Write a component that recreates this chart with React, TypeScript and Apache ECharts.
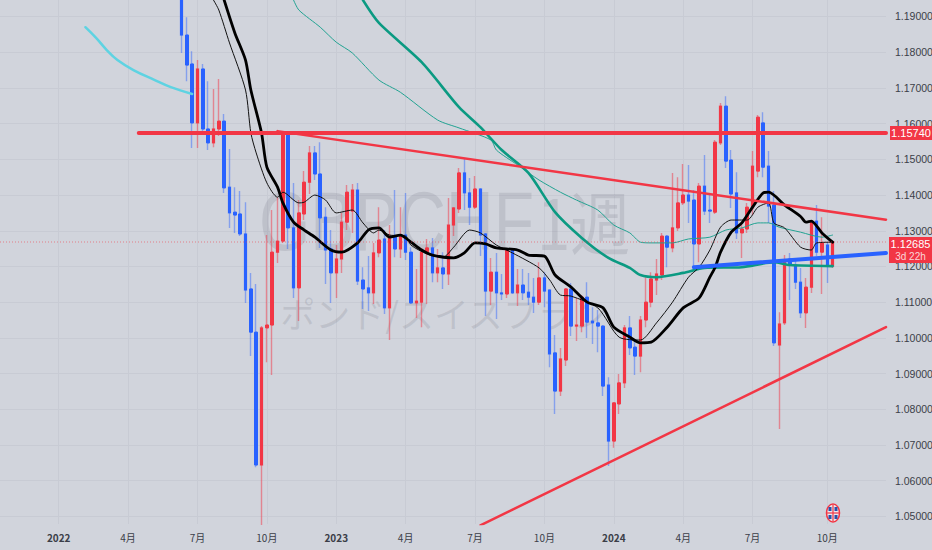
import React, { useEffect, useRef } from "react";
import * as echarts from "echarts";

const opens = [1.1974,1.1848,1.1767,1.1602,1.1753,1.1585,1.1546,1.1585,1.1607,1.1422,1.1352,1.1347,1.1291,1.1137,1.1016,1.0644,1.1028,1.1036,1.1240,1.1271,1.1568,1.1308,1.1140,1.1347,1.1436,1.1518,1.1459,1.1338,1.1249,1.1182,1.1221,1.1324,1.1355,1.1414,1.1162,1.1140,1.1126,1.1238,1.1277,1.1084,1.1285,1.1249,1.1288,1.1240,1.1098,1.1100,1.1240,1.1252,1.1182,1.1196,1.1179,1.1316,1.1361,1.1462,1.1406,1.1366,1.1417,1.1291,1.1131,1.1184,1.1126,1.1123,1.1246,1.1126,1.1148,1.1128,1.1114,1.1100,1.1168,1.1134,1.0958,1.0851,1.0938,1.1137,1.1033,1.1033,1.1114,1.1047,1.1042,1.1033,1.0868,1.0711,1.0815,1.0874,1.1028,1.0974,1.0949,1.1050,1.1100,1.1162,1.1176,1.1285,1.1252,1.1308,1.1378,1.1400,1.1386,1.1263,1.1425,1.1358,1.1352,1.1546,1.1649,1.1498,1.1406,1.1294,1.1305,1.1364,1.1467,1.1602,1.1481,1.1372,1.0980,1.1042,1.1221,1.1204,1.1156,1.1070,1.1142,1.1327,1.1240,1.1260,1.1201];
const closes = [1.1848,1.1764,1.1602,1.1753,1.1585,1.1546,1.1585,1.1607,1.1420,1.1350,1.1344,1.1291,1.1134,1.1016,1.0644,1.1028,1.1036,1.1240,1.1271,1.1574,1.1308,1.1140,1.1350,1.1436,1.1518,1.1459,1.1336,1.1246,1.1182,1.1221,1.1324,1.1408,1.1414,1.1159,1.1137,1.1126,1.1238,1.1274,1.1084,1.1285,1.1249,1.1288,1.1240,1.1098,1.1103,1.1240,1.1252,1.1182,1.1196,1.1179,1.1316,1.1364,1.1462,1.1406,1.1366,1.1417,1.1288,1.1131,1.1184,1.1126,1.1123,1.1246,1.1126,1.1148,1.1126,1.1114,1.1100,1.1168,1.1131,1.0955,1.0851,1.0941,1.1137,1.1033,1.1036,1.1114,1.1044,1.1042,1.1033,1.0865,1.0711,1.0818,1.0874,1.1028,1.0972,1.0949,1.1050,1.1100,1.1165,1.1179,1.1285,1.1254,1.1308,1.1378,1.1400,1.1383,1.1263,1.1425,1.1355,1.1355,1.1548,1.1649,1.1495,1.1403,1.1294,1.1305,1.1366,1.1481,1.1618,1.1478,1.1369,1.0986,1.1039,1.1212,1.1204,1.1156,1.1070,1.1142,1.1327,1.1240,1.1266,1.1201,1.12685];
const lows = [1.1798,1.1719,1.1532,1.1532,1.1571,1.1526,1.1534,1.1565,1.1406,1.1308,1.1294,1.1285,1.1098,1.0949,1.0638,1.0476,1.0932,1.0896,1.1210,1.1266,1.1249,1.1112,1.1047,1.1330,1.1403,1.1442,1.1252,1.1151,1.1098,1.1112,1.1182,1.1302,1.1294,1.1148,1.1081,1.1075,1.1095,1.1226,1.1067,1.0994,1.1226,1.1224,1.1218,1.1095,1.1056,1.1030,1.1095,1.1156,1.1156,1.1137,1.1148,1.1285,1.1350,1.1358,1.1316,1.1361,1.1229,1.1061,1.1092,1.1053,1.1106,1.1112,1.1123,1.1089,1.1106,1.1092,1.1070,1.1092,1.1086,1.0918,1.0787,1.0837,1.0921,1.1005,1.0991,1.1016,1.1000,1.0983,1.0960,1.0837,1.0641,1.0692,1.0787,1.0860,1.0952,1.0896,1.0904,1.1030,1.1086,1.1120,1.1162,1.1198,1.1240,1.1299,1.1372,1.1322,1.1196,1.1212,1.1344,1.1322,1.1347,1.1540,1.1476,1.1364,1.1277,1.1224,1.1294,1.1344,1.1450,1.1450,1.1322,1.0977,1.0745,1.1036,1.1106,1.1137,1.1056,1.1028,1.1126,1.1229,1.1123,1.1154,1.1196];
const highs = [1.2002,1.1898,1.1803,1.1778,1.1767,1.1719,1.1697,1.1725,1.1627,1.1529,1.1422,1.1411,1.1380,1.1182,1.1151,1.1033,1.1288,1.1358,1.1394,1.1579,1.1576,1.1434,1.1386,1.1467,1.1537,1.1537,1.1548,1.1366,1.1302,1.1260,1.1350,1.1428,1.1431,1.1434,1.1198,1.1229,1.1266,1.1366,1.1302,1.1316,1.1414,1.1366,1.1406,1.1254,1.1193,1.1252,1.1277,1.1280,1.1249,1.1240,1.1392,1.1366,1.1476,1.1504,1.1448,1.1453,1.1417,1.1294,1.1224,1.1238,1.1179,1.1246,1.1246,1.1193,1.1193,1.1182,1.1168,1.1212,1.1184,1.1134,1.1008,1.0972,1.1140,1.1154,1.1112,1.1120,1.1156,1.1086,1.1078,1.1036,1.0890,1.0820,1.0899,1.1036,1.1061,1.0988,1.1061,1.1170,1.1184,1.1221,1.1294,1.1288,1.1462,1.1450,1.1487,1.1484,1.1414,1.1434,1.1512,1.1400,1.1554,1.1658,1.1677,1.1526,1.1464,1.1324,1.1378,1.1523,1.1624,1.1632,1.1523,1.1411,1.1072,1.1232,1.1238,1.1224,1.1196,1.1168,1.1330,1.1372,1.1338,1.1268,1.1271];

// [week index, price] samples
const maFastThin = [[40,1.1946],[41,1.1918],[43,1.1826],[46,1.1694],[47,1.1574],[48,1.1518],[50,1.1434],[52,1.1394],[53,1.1408],[56,1.1378],[57,1.1380],[59,1.1400],[61,1.1386],[63,1.1350],[66,1.1358],[68,1.1322],[70,1.1294],[71,1.1302],[73,1.1288],[76,1.1285],[77,1.1260],[80,1.1235],[83,1.1226],[85,1.1254],[88,1.1302],[90,1.1294],[93,1.1260],[96,1.1238],[101,1.1196],[103,1.1162],[105,1.1120],[107,1.1117],[112,1.1084],[116,1.1002],[120,1.0994],[123,1.1042],[126,1.1100],[129,1.1170],[131,1.1198],[133,1.1246],[135,1.1310],[137,1.1330],[140,1.1330],[142,1.1366],[144,1.1378],[145,1.1322],[147,1.1308],[150,1.1254],[152,1.1246],[153,1.1266],[156,1.1268]];
const maFastThick = [[42,1.1946],[44,1.1854],[46,1.1778],[47,1.1694],[49,1.1574],[50,1.1478],[52,1.1422],[53,1.1378],[55,1.1324],[57,1.1302],[59,1.1282],[62,1.1246],[64,1.1240],[67,1.1266],[69,1.1302],[71,1.1308],[73,1.1282],[75,1.1288],[77,1.1268],[79,1.1246],[81,1.1232],[85,1.1224],[87,1.1238],[89,1.1266],[91,1.1263],[93,1.1252],[97,1.1246],[99,1.1232],[102,1.1229],[104,1.1176],[107,1.1142],[110,1.1100],[113,1.1084],[115,1.1030],[118,1.1002],[120,1.0986],[122,1.0988],[125,1.1030],[128,1.1084],[131,1.1112],[133,1.1170],[134,1.1198],[135,1.1240],[137,1.1296],[139,1.1322],[141,1.1366],[143,1.1406],[144,1.1408],[147,1.1372],[150,1.1340],[151,1.1324],[152,1.1327],[154,1.1294],[156,1.1268]];
const maSlowThin = [[55,1.1946],[56,1.1918],[60,1.1870],[63,1.1828],[66,1.1798],[71,1.1722],[75,1.1688],[82,1.1610],[86,1.1588],[92,1.1554],[93,1.1526],[97,1.1484],[101,1.1442],[105,1.1408],[108,1.1386],[112,1.1358],[115,1.1316],[118,1.1294],[120,1.1268],[122,1.1266],[126,1.1266],[129,1.1277],[133,1.1282],[136,1.1302],[139,1.1308],[142,1.1322],[144,1.1322],[146,1.1310],[150,1.1296],[154,1.1282],[156,1.1288]];
const maSlowThick = [[68,1.1946],[71,1.1882],[79,1.1772],[86,1.1646],[90,1.1590],[94,1.1526],[99,1.1462],[104,1.1352],[109,1.1280],[114,1.1224],[118,1.1196],[120,1.1176],[123,1.1170],[128,1.1182],[132,1.1196],[139,1.1198],[145,1.1212],[148,1.1204],[156,1.1201]];
const maCyan = [[16,1.1870],[18,1.1840],[20,1.1806],[22,1.1778],[25,1.1750],[29,1.1722],[32,1.1702],[36,1.1683]];

const resistanceLevel = [[26,1.1574],[166,1.1574]];
const descendingLine = [[52,1.1579],[166,1.1331]];
const blueLine = [[130,1.1198],[166,1.12376]];
const ascendingLine = [[90,1.0475],[166,1.1030]];
const lastPriceLine = [[0,1.12685],[166,1.12685]];

const priceTicks = [1.05,1.06,1.07,1.08,1.09,1.10,1.11,1.12,1.13,1.14,1.15,1.16,1.17,1.18,1.19];
const timeTickIndex = [11,24,37,50,63,76,89,102,115,128,141,155];
const timeTickLabels = ["2022","4月","7月","10月","2023","4月","7月","10月","2024","4月","7月","10月"];

const WEEKS = 167;
const FIRST_CANDLE = 34;
const RED = "#F23645";
const BLUE = "#2962FF";
const BG = "#D1D4DC";
const GRIDLINE = "#C8CBD4";
const WATERMARK = "rgba(110,113,125,0.19)";
const NARROW = "'Liberation Sans Narrow','Liberation Sans',sans-serif";
const CJK = "'Noto Sans CJK JP',sans-serif";

export default function App() {
  const ref = useRef<HTMLDivElement>(null);
  useEffect(() => {
    document.body.style.margin = "0";
    document.body.style.background = BG;
    const chart = echarts.init(ref.current!, undefined, { renderer: "svg" });
    const categories = Array.from({ length: WEEKS }, (_, i) => "w" + i);
    const blank = ["-", "-", "-", "-"];
    const pad = (rows: any[]) => {
      const out: any[] = [];
      for (let i = 0; i < WEEKS; i++) {
        const k = i - FIRST_CANDLE;
        out.push(k >= 0 && k < rows.length ? rows[k] : blank);
      }
      return out;
    };
    const wickRows = opens.map((o, i) => [o, closes[i], lows[i], highs[i]]);
    const bodyRows = opens.map((o, i) => [o, closes[i], Math.min(o, closes[i]), Math.max(o, closes[i])]);
    const showTick = (idx: number) => timeTickIndex.indexOf(idx) >= 0;
    const line = (name: string, data: number[][], color: string, width: number, smooth: number | boolean = 0.25, extra: any = {}) => ({
      name, type: "line", data, showSymbol: false, symbol: "none", smooth, silent: true,
      lineStyle: { color, width, cap: "round", join: "round" }, z: 5, ...extra,
    });
    chart.setOption({
      animation: false,
      backgroundColor: BG,
      textStyle: { fontFamily: NARROW },
      grid: { left: 0, right: 46, top: 0, bottom: 26, containLabel: false, outerBoundsMode: "none" },
      xAxis: {
        type: "category", data: categories, boundaryGap: false,
        axisLine: { show: false }, axisTick: { show: false },
        axisLabel: {
          interval: (idx: number) => showTick(idx), margin: 8, fontSize: 10, color: "#3b3e48", fontFamily: CJK,
          hideOverlap: false,
          formatter: (_: string, idx: number) => {
            const t = timeTickLabels[timeTickIndex.indexOf(idx)] ?? "";
            return /^\d{4}$/.test(t) ? `{y|${t}}` : t;
          },
          rich: { y: { fontWeight: "bold", fontSize: 10, color: "#3b3e48", fontFamily: CJK } },
        },
        splitLine: { show: true, interval: (idx: number) => showTick(idx), lineStyle: { color: GRIDLINE, width: 1 } },
      },
      yAxis: {
        type: "value", position: "right", min: 1.04788, max: 1.19462, scale: true,
        axisLine: { show: false },
        axisTick: { show: false, customValues: priceTicks },
        axisLabel: {
          customValues: priceTicks, margin: 9, fontSize: 10.5, color: "#3b3e48", fontFamily: NARROW,
          formatter: (v: number) => v.toFixed(5),
        },
        splitLine: { show: true, lineStyle: { color: GRIDLINE, width: 1 } },
      },
      graphic: [
        { type: "text", z: 1, silent: true, x: 259, y: 221, scaleY: 1.27, style: { x: 0, y: 0, text: "GBPCHF", textAlign: "left", textVerticalAlign: "middle", fontFamily: NARROW, fontSize: 66, fill: WATERMARK } },
        { type: "text", z: 1, silent: true, x: 537, y: 220, scaleY: 1.15, style: { x: 0, y: 0, text: "1週", textAlign: "left", textVerticalAlign: "middle", fontFamily: CJK, fontSize: 60, fill: WATERMARK } },
        { type: "text", z: 1, silent: true, style: { x: 444, y: 312, text: "ポンド/スイスフラン", textAlign: "center", textVerticalAlign: "middle", fontFamily: CJK, fontSize: 35, fill: WATERMARK } },
        {
          type: "group", z: 20, silent: true, children: [
            { type: "ellipse", z: 20, shape: { cx: 833, cy: 513, rx: 6.5, ry: 9 }, style: { fill: "#E8E9EE", stroke: RED, lineWidth: 1.5 } },
            { type: "rect", z: 21, shape: { x: 828.5, y: 507, width: 3, height: 4 }, style: { fill: "#2B4FA8" } },
            { type: "rect", z: 21, shape: { x: 834.5, y: 507, width: 3, height: 4 }, style: { fill: "#2B4FA8" } },
            { type: "rect", z: 21, shape: { x: 828.5, y: 515, width: 3, height: 4 }, style: { fill: "#2B4FA8" } },
            { type: "rect", z: 21, shape: { x: 834.5, y: 515, width: 3, height: 4 }, style: { fill: "#2B4FA8" } },
            { type: "line", z: 22, shape: { x1: 833, y1: 505, x2: 833, y2: 521 }, style: { stroke: RED, lineWidth: 1.2 } },
            { type: "line", z: 22, shape: { x1: 827, y1: 513, x2: 839, y2: 513 }, style: { stroke: RED, lineWidth: 1.2 } },
          ],
        },
      ],
      series: [
        {
          name: "wicks", type: "candlestick", data: pad(wickRows), barWidth: 2, silent: true, z: 3,
          itemStyle: { color: "rgba(242,54,69,0.5)", color0: "rgba(41,98,255,0.45)", borderColor: "rgba(242,54,69,0.5)", borderColor0: "rgba(41,98,255,0.45)", borderWidth: 1.4 },
        },
        {
          name: "bodies", type: "candlestick", data: pad(bodyRows), barWidth: 3, silent: true, z: 4,
          itemStyle: { color: RED, color0: BLUE, borderColor: RED, borderColor0: BLUE, borderWidth: 1 },
        },
        line("MA cyan", maCyan, "#5ED3E2", 2.5, 0.4),
        line("MA slow thin", maSlowThin, "#22A392", 1),
        line("MA slow thick", maSlowThick, "#0B9A82", 2.6),
        line("MA fast thin", maFastThin, "#111111", 1),
        line("MA fast thick", maFastThick, "#000000", 2.8),
        line("last price", lastPriceLine, "rgba(242,54,69,0.55)", 1, false, {
          lineStyle: { color: "rgba(242,54,69,0.55)", width: 1, type: [1, 2] },
          endLabel: {
            show: true, distance: 3, offset: [0, 8], backgroundColor: RED, align: "left",
            formatter: () => "{a|1.12685}\n{b|3d 22h}",
            rich: {
              a: { color: "#fff", fontFamily: NARROW, fontSize: 11, lineHeight: 13, align: "center", width: 43 },
              b: { color: "#fbd5d9", fontFamily: NARROW, fontSize: 10, lineHeight: 13, align: "center", width: 43 },
            },
          },
        }),
        line("resistance", resistanceLevel, RED, 4, false, {
          z: 6,
          endLabel: {
            show: true, distance: 4, formatter: () => "{a|1.15740}", backgroundColor: RED, align: "left",
            rich: { a: { color: "#fff", fontFamily: NARROW, fontSize: 11, lineHeight: 14, align: "center", width: 42 } },
          },
        }),
        line("descending trend", descendingLine, RED, 2.5, false, { z: 6 }),
        line("ascending trend", ascendingLine, RED, 2.5, false, { z: 6 }),
        line("blue trend", blueLine, BLUE, 4, false, { z: 5 }),
      ],
    });
    return () => chart.dispose();
  }, []);
  return <div ref={ref} style={{ width: 932, height: 550 }} />;
}
